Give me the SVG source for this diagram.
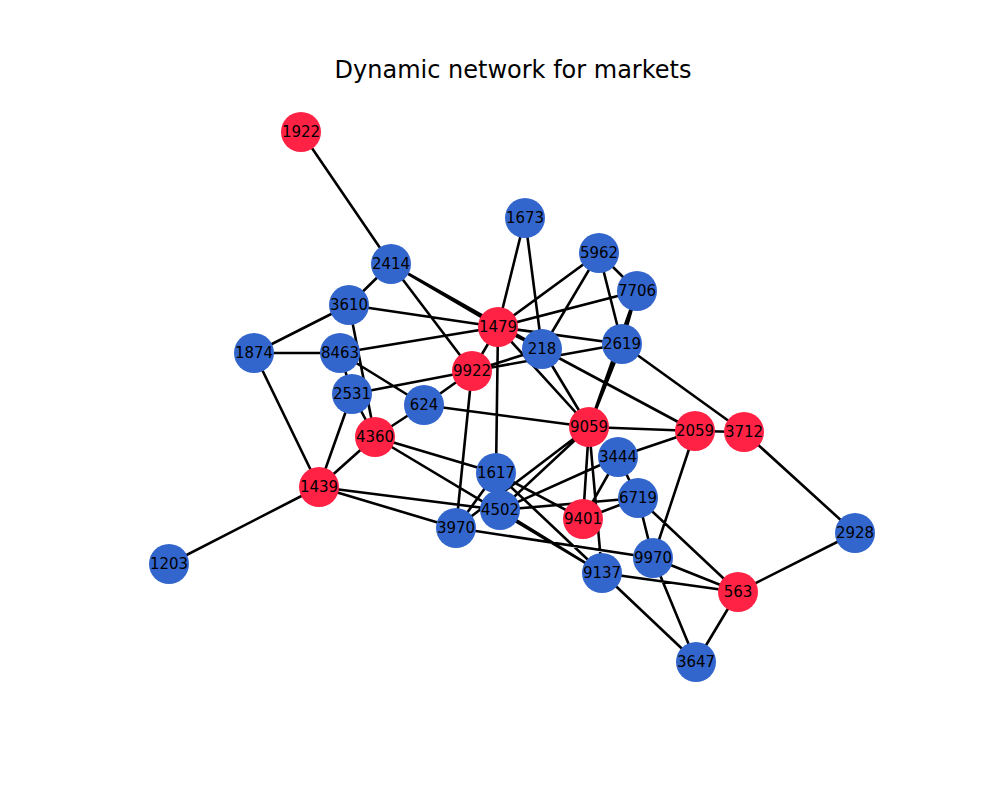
<svg xmlns="http://www.w3.org/2000/svg" width="1000" height="800" viewBox="0 0 1000 800">
<style>
.e{stroke:#000;stroke-width:2.6;fill:none}
.b{fill:#3366cc}.r{fill:#ff2244}
text{font-family:"DejaVu Sans",sans-serif;font-size:15px;text-anchor:middle;dominant-baseline:central;fill:#000}
.t{font-size:24px}
</style>
<rect width="1000" height="800" fill="#fff"/>
<text class="t" x="513" y="70">Dynamic network for markets</text>
<g id="edges" class="e">
<path d="M301,132L391,264M391,264L349,305M391,264L498,327M391,264L542,349M391,264L472,371M349,305L498,327M349,305L254,353M349,305L375,437M254,353L340,353M254,353L319,487M340,353L498,327M340,353L424,405M340,353L352,394M352,394L375,437M352,394L472,371M352,394L319,487M424,405L472,371M424,405L375,437M424,405L589,427M472,371L498,327M472,371L542,349M472,371L622,344M472,371L456,528M498,327L525,218M498,327L599,253M498,327L637,291M498,327L542,349M498,327L622,344M498,327L496,473M498,327L589,427M525,218L542,349M599,253L542,349M599,253L637,291M599,253L622,344M637,291L622,344M637,291L589,427M622,344L589,427M622,344L744,432M542,349L589,427M542,349L695,431M589,427L695,431M589,427L500,510M589,427L583,519M589,427L602,573M589,427L456,528M695,431L744,432M695,431L618,457M695,431L653,558M744,432L855,533M618,457L638,498M618,457L583,519M618,457L500,510M638,498L500,510M638,498L583,519M638,498L653,558M638,498L738,592M375,437L496,473M375,437L602,573M375,437L319,487M496,473L583,519M496,473L602,573M496,473L456,528M500,510L602,573M319,487L500,510M319,487L456,528M319,487L169,564M456,528L653,558M653,558L738,592M653,558L696,662M602,573L738,592M602,573L696,662M738,592L696,662M738,592L855,533"/>
</g>
<g id="n1922"><circle class="r" cx="301" cy="132" r="20"/><text x="301" y="132">1922</text></g>
<g id="n2414"><circle class="b" cx="391" cy="264" r="20"/><text x="391" y="264">2414</text></g>
<g id="n1673"><circle class="b" cx="525" cy="218" r="20"/><text x="525" y="218">1673</text></g>
<g id="n5962"><circle class="b" cx="599" cy="253" r="20"/><text x="599" y="253">5962</text></g>
<g id="n7706"><circle class="b" cx="637" cy="291" r="20"/><text x="637" y="291">7706</text></g>
<g id="n3610"><circle class="b" cx="349" cy="305" r="20"/><text x="349" y="305">3610</text></g>
<g id="n1479"><circle class="r" cx="498" cy="327" r="20"/><text x="498" y="327">1479</text></g>
<g id="n218"><circle class="b" cx="542" cy="349" r="20"/><text x="542" y="349">218</text></g>
<g id="n2619"><circle class="b" cx="622" cy="344" r="20"/><text x="622" y="344">2619</text></g>
<g id="n1874"><circle class="b" cx="254" cy="353" r="20"/><text x="254" y="353">1874</text></g>
<g id="n8463"><circle class="b" cx="340" cy="353" r="20"/><text x="340" y="353">8463</text></g>
<g id="n9922"><circle class="r" cx="472" cy="371" r="20"/><text x="472" y="371">9922</text></g>
<g id="n2531"><circle class="b" cx="352" cy="394" r="20"/><text x="352" y="394">2531</text></g>
<g id="n624"><circle class="b" cx="424" cy="405" r="20"/><text x="424" y="405">624</text></g>
<g id="n9059"><circle class="r" cx="589" cy="427" r="20"/><text x="589" y="427">9059</text></g>
<g id="n2059"><circle class="r" cx="695" cy="431" r="20"/><text x="695" y="431">2059</text></g>
<g id="n3712"><circle class="r" cx="744" cy="432" r="20"/><text x="744" y="432">3712</text></g>
<g id="n4360"><circle class="r" cx="375" cy="437" r="20"/><text x="375" y="437">4360</text></g>
<g id="n3444"><circle class="b" cx="618" cy="457" r="20"/><text x="618" y="457">3444</text></g>
<g id="n1617"><circle class="b" cx="496" cy="473" r="20"/><text x="496" y="473">1617</text></g>
<g id="n1439"><circle class="r" cx="319" cy="487" r="20"/><text x="319" y="487">1439</text></g>
<g id="n6719"><circle class="b" cx="638" cy="498" r="20"/><text x="638" y="498">6719</text></g>
<g id="n4502"><circle class="b" cx="500" cy="510" r="20"/><text x="500" y="510">4502</text></g>
<g id="n9401"><circle class="r" cx="583" cy="519" r="20"/><text x="583" y="519">9401</text></g>
<g id="n3970"><circle class="b" cx="456" cy="528" r="20"/><text x="456" y="528">3970</text></g>
<g id="n2928"><circle class="b" cx="855" cy="533" r="20"/><text x="855" y="533">2928</text></g>
<g id="n9970"><circle class="b" cx="653" cy="558" r="20"/><text x="653" y="558">9970</text></g>
<g id="n1203"><circle class="b" cx="169" cy="564" r="20"/><text x="169" y="564">1203</text></g>
<g id="n9137"><circle class="b" cx="602" cy="573" r="20"/><text x="602" y="573">9137</text></g>
<g id="n563"><circle class="r" cx="738" cy="592" r="20"/><text x="738" y="592">563</text></g>
<g id="n3647"><circle class="b" cx="696" cy="662" r="20"/><text x="696" y="662">3647</text></g>
</svg>
